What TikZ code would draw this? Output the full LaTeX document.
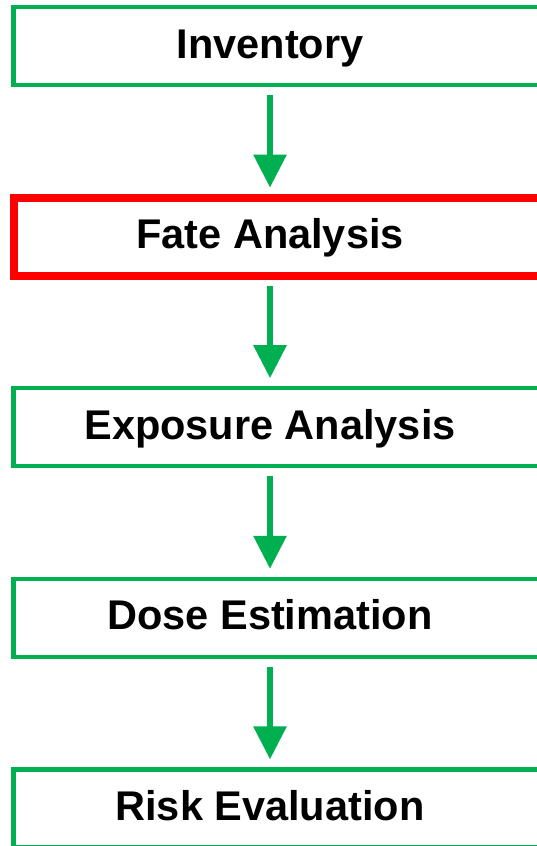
\documentclass[tikz,border=0pt]{standalone}
\usepackage{fontspec}
\setmainfont{Liberation Sans}
\usepackage{tikz}
\usetikzlibrary{arrows,arrows.meta,positioning}
\definecolor{stepgreen}{RGB}{0,176,80}
\definecolor{stepred}{RGB}{255,0,0}
\tikzstyle{stage} = [draw=none, text=black, text centered, font=\fontsize{41.5}{50}\selectfont\bfseries, text height=30pt, text depth=6pt, minimum width=513pt, minimum height=78pt, inner sep=0pt, outer sep=0pt]
\tikzstyle{frame} = [draw=stepgreen, line width=4.5pt]
\tikzstyle{hot} = [draw=stepred, line width=8pt]
\tikzstyle{tedge} = [draw, stepgreen, line width=6pt, -{Triangle[length=33pt,width=32pt]}, shorten <=10pt, shorten >=10pt]

\begin{document}
\begin{tikzpicture}[x=1pt, y=1pt]
\useasboundingbox (0,0) rectangle (537,-846);

% stages =============================

% nodes
\node[stage] (inv) at (270,-46) {Inventory};
\node[stage, below=112.6pt of inv] (fate) {Fate Analysis};
\node[stage, below=112.6pt of fate] (expo) {Exposure Analysis};
\node[stage, below=112.6pt of expo] (dose) {Dose Estimation};
\node[stage, below=112.6pt of dose] (risk) {Risk Evaluation};

% frames (run off the right edge)
\foreach \n in {inv, expo, dose, risk}
  \draw[frame] (\n.north west) rectangle ([xshift=40pt]\n.south east);
\draw[hot] (fate.north west) rectangle ([xshift=40pt]fate.south east);

% edges
\path[tedge] (inv) -- (fate);
\path[tedge] (fate) -- (expo);
\path[tedge] (expo) -- (dose);
\path[tedge] (dose) -- (risk);

\end{tikzpicture}
\end{document}
